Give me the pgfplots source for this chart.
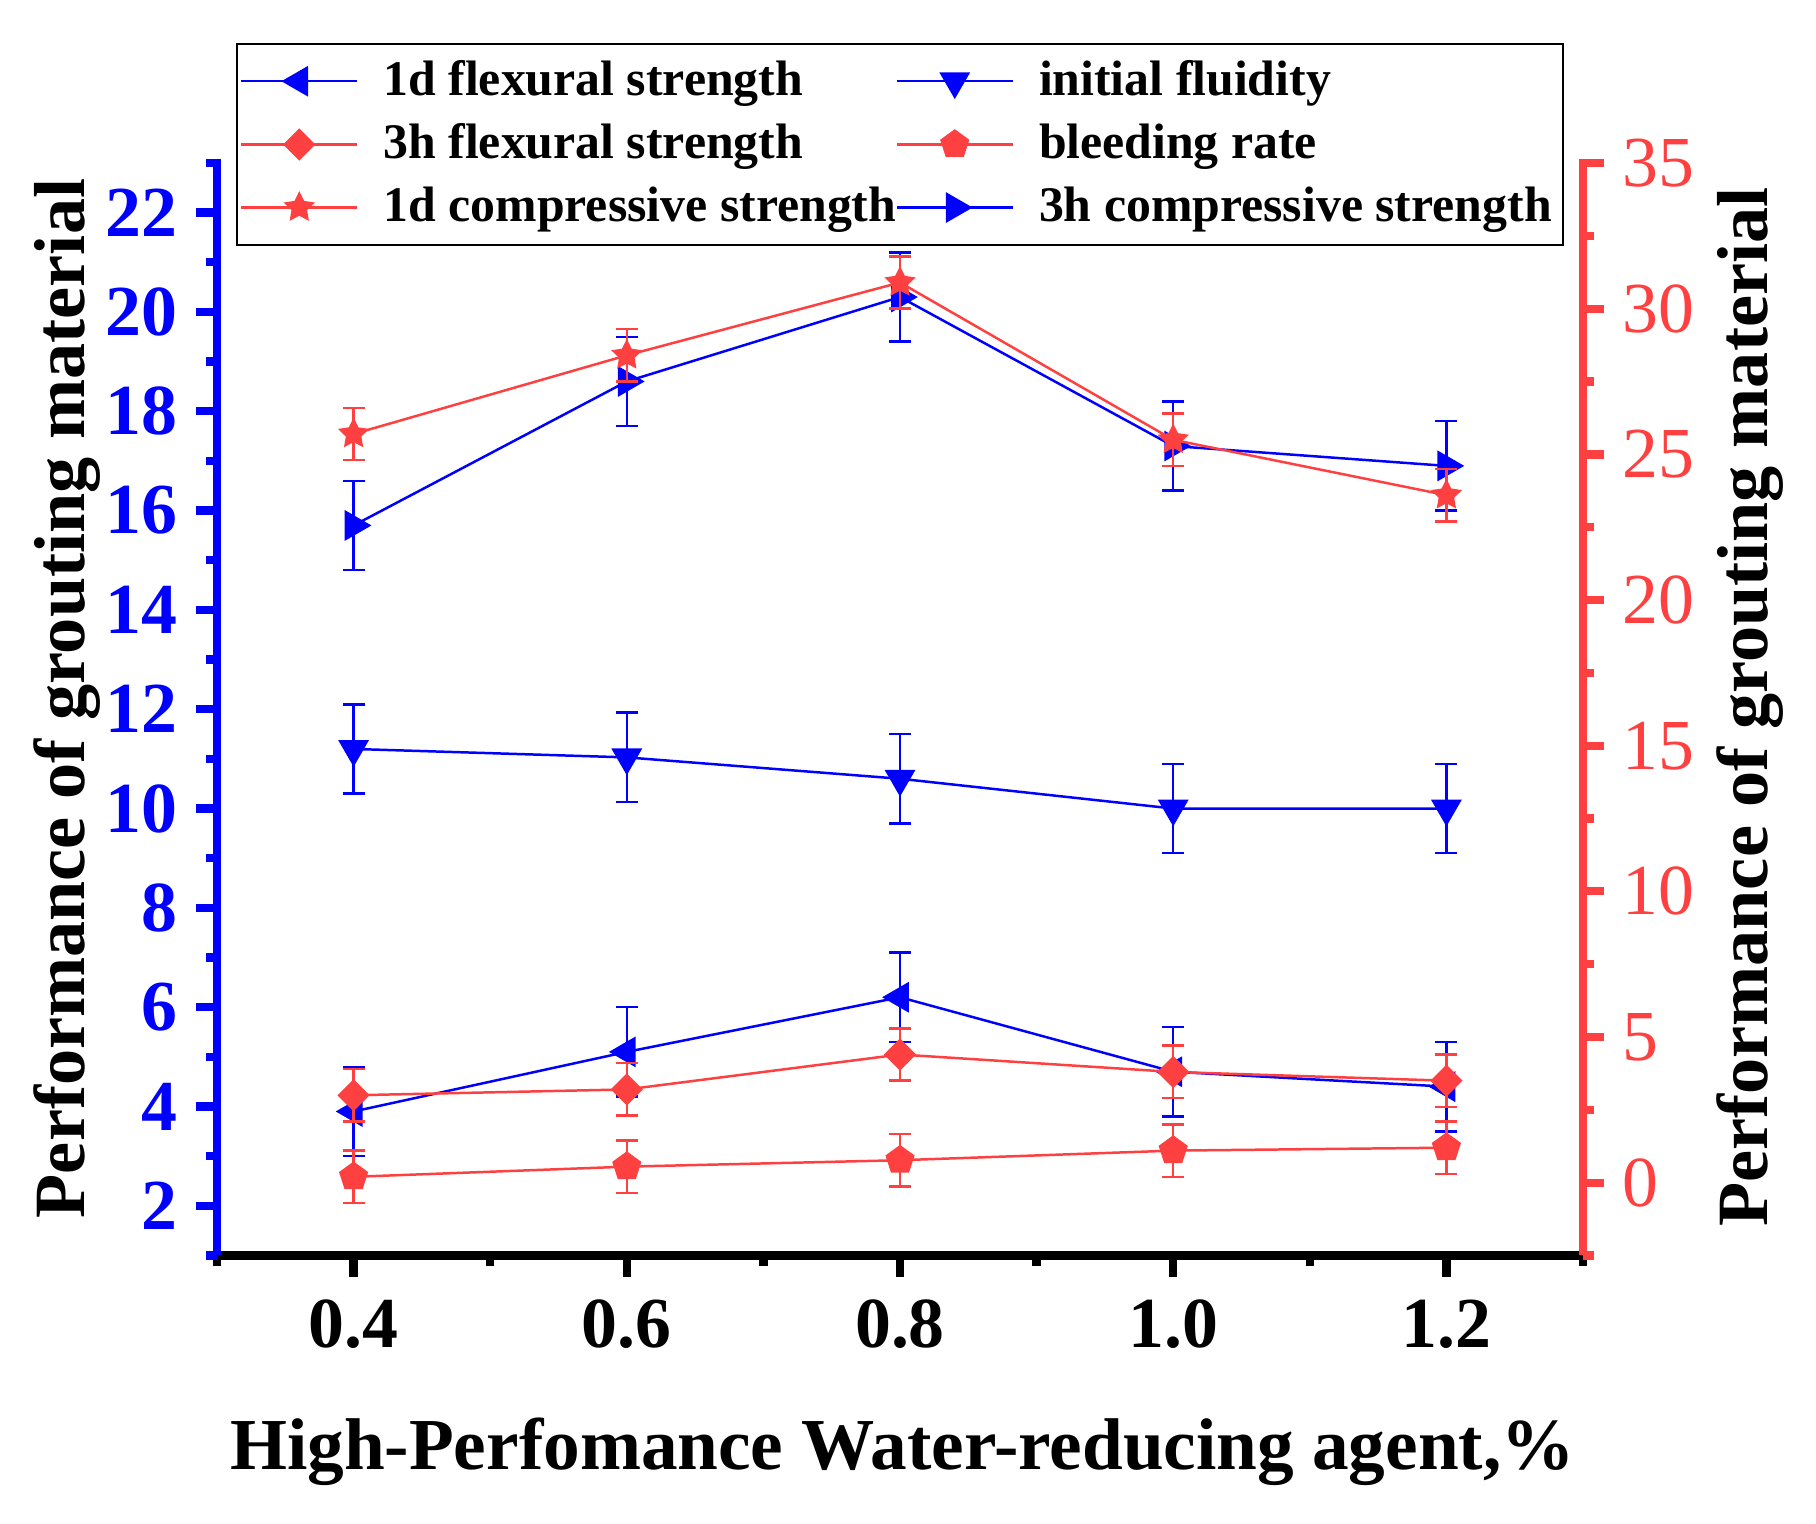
\documentclass[border=0pt]{standalone}
\usepackage{fontspec}
\setmainfont{Liberation Serif}
\usepackage{pgfplots}
\usepackage{pgfplotstable}
\pgfplotsset{compat=1.18}
\usetikzlibrary{plotmarks}
\definecolor{oblue}{RGB}{0,0,255}
\definecolor{ored}{RGB}{255,64,64}

\pgfdeclareplotmark{fstar}{%
  \pgfpathmoveto{\pgfpointpolar{90}{\pgfplotmarksize}}%
  \pgfpathlineto{\pgfpointpolar{126}{0.5\pgfplotmarksize}}%
  \pgfpathlineto{\pgfpointpolar{162}{\pgfplotmarksize}}%
  \pgfpathlineto{\pgfpointpolar{198}{0.5\pgfplotmarksize}}%
  \pgfpathlineto{\pgfpointpolar{234}{\pgfplotmarksize}}%
  \pgfpathlineto{\pgfpointpolar{270}{0.5\pgfplotmarksize}}%
  \pgfpathlineto{\pgfpointpolar{306}{\pgfplotmarksize}}%
  \pgfpathlineto{\pgfpointpolar{342}{0.5\pgfplotmarksize}}%
  \pgfpathlineto{\pgfpointpolar{18}{\pgfplotmarksize}}%
  \pgfpathlineto{\pgfpointpolar{54}{0.5\pgfplotmarksize}}%
  \pgfpathclose\pgfusepathqfillstroke}
\pgfdeclareplotmark{fdiamond}{%
  \pgfpathmoveto{\pgfqpoint{0pt}{\pgfplotmarksize}}%
  \pgfpathlineto{\pgfqpoint{\pgfplotmarksize}{0pt}}%
  \pgfpathlineto{\pgfqpoint{0pt}{-\pgfplotmarksize}}%
  \pgfpathlineto{\pgfqpoint{-\pgfplotmarksize}{0pt}}%
  \pgfpathclose\pgfusepathqfillstroke}

% left axis (blue)
\pgfplotstableread{
x y e
0.4 3.9 0.9
0.6 5.1 0.9
0.8 6.2 0.9
1.0 4.7 0.9
1.2 4.4 0.9
}\flexOneD
\pgfplotstableread{
x y e
0.4 11.2 0.9
0.6 11.03 0.9
0.8 10.6 0.9
1.0 10.0 0.9
1.2 10.0 0.9
}\fluidity
\pgfplotstableread{
x y e
0.4 15.7 0.9
0.6 18.6 0.9
0.8 20.3 0.9
1.0 17.3 0.9
1.2 16.9 0.9
}\compThreeH
% right axis (red)
\pgfplotstableread{
x y e
0.4 3.0 0.9
0.6 3.2 0.9
0.8 4.4 0.9
1.0 3.8 0.9
1.2 3.5 0.9
}\flexThreeH
\pgfplotstableread{
x y e
0.4 0.2 0.9
0.6 0.55 0.9
0.8 0.77 0.9
1.0 1.1 0.9
1.2 1.2 0.9
}\bleeding
\pgfplotstableread{
x y e
0.4 25.7 0.9
0.6 28.4 0.9
0.8 30.9 0.9
1.0 25.5 0.9
1.2 23.6 0.9
}\compOneD

\newcommand{\tickfont}{\fontsize{17.3}{20}\selectfont}
\newcommand{\labfont}{\bfseries\fontsize{17.4}{20}\selectfont}
\newcommand{\xlabfont}{\bfseries\fontsize{17.65}{20}\selectfont}

\pgfplotsset{
  common/.style={
    at={(52.29pt,64.70pt)}, anchor=south west,
    scale only axis, width=329.16pt, height=264.22pt,
    xmin=0.3, xmax=1.3,
    tick align=outside,
    major tick length=5.1pt, minor tick length=2.6pt,
    /pgf/number format/assume math mode=true,
  },
  eb/.style={error bars/.cd, y dir=both, y explicit,
    error bar style={line width=0.6pt, #1},
    error mark options={rotate=90, mark size=2.65pt, line width=0.6pt, #1}},
}

\begin{document}
\begin{tikzpicture}
\useasboundingbox (0,0) rectangle (437.59pt,367.23pt);
\begin{axis}[common,
  ymin=1, ymax=23.08,
  axis x line*=bottom, axis y line*=left,
  xtick={0.4,0.6,0.8,1.0,1.2}, xticklabels={0.4,0.6,0.8,1.0,1.2},
  minor xtick={0.3,0.5,0.7,0.9,1.1,1.3},
  ytick={2,4,6,8,10,12,14,16,18,20,22},
  minor ytick={1,3,5,7,9,11,13,15,17,19,21,23},
  x axis line style={black, line width=2pt},
  y axis line style={oblue, line width=2pt},
  xtick style={black, line width=2pt},
  ytick style={oblue, line width=2pt},
  xticklabel style={font=\tickfont\bfseries, black, inner sep=0pt, anchor=north, yshift=-5.45pt},
  yticklabel style={font=\tickfont\bfseries, oblue, inner sep=0pt, anchor=east, xshift=-4.2pt},
  xlabel={High-Perfomance Water-reducing agent,\%},
  xlabel style={font=\xlabfont, at={(axis description cs:0.5018,-0.1949)}, anchor=base},
  ylabel={Performance of grouting material},
  ylabel style={font=\labfont, at={(axis description cs:-0.0969,0.508)}, anchor=base},
]
\addplot[oblue, line width=0.6pt, mark=triangle*, mark size=3.9pt,
  mark options={rotate=90, solid, fill=oblue, line width=0.4pt}, eb=oblue]
  table[x=x, y=y, y error=e] {\flexOneD};
\addplot[oblue, line width=0.6pt, mark=triangle*, mark size=3.9pt,
  mark options={rotate=180, solid, fill=oblue, line width=0.4pt}, eb=oblue]
  table[x=x, y=y, y error=e] {\fluidity};
\addplot[oblue, line width=0.6pt, mark=triangle*, mark size=3.9pt,
  mark options={rotate=-90, solid, fill=oblue, line width=0.4pt}, eb=oblue]
  table[x=x, y=y, y error=e] {\compThreeH};
\end{axis}

\begin{axis}[common,
  ymin=-2.5, ymax=35.14,
  axis x line=none, axis y line*=right,
  ytick={0,5,10,15,20,25,30,35},
  minor ytick={-2.5,2.5,7.5,12.5,17.5,22.5,27.5,32.5},
  y axis line style={ored, line width=2pt},
  ytick style={ored, line width=2pt},
  yticklabel style={font=\tickfont, ored, inner sep=0pt, anchor=west, xshift=4.15pt},
  ylabel={Performance of grouting material},
  ylabel style={font=\labfont, at={(axis description cs:1.1349,0.5)}, anchor=base},
  legend columns=2, legend cell align=left,
  legend image code/.code={\draw[mark repeat=2,mark phase=2,#1] plot coordinates {(0pt,0pt) (14pt,0pt) (28pt,0pt)};},
  legend style={at={(axis description cs:0.0139,1.1058)}, anchor=north west,
    draw=black, line width=0.5pt, fill=white,
    font=\bfseries\fontsize{12}{14}\selectfont,
    inner xsep=0.7pt, inner ysep=2pt, row sep=1.3pt,
    nodes={inner sep=2pt, text depth=0.15em},
    /tikz/every odd column/.style={column sep=4pt},
    /tikz/every even column/.style={column sep=-2.2pt}},
]
\addlegendimage{oblue, line width=0.6pt, mark=triangle*, mark size=3.9pt, mark options={rotate=90, solid, fill=oblue, line width=0.4pt}}
\addlegendentry{1d flexural strength}
\addlegendimage{oblue, line width=0.6pt, mark=triangle*, mark size=3.9pt, mark options={rotate=180, solid, fill=oblue, line width=0.4pt}}
\addlegendentry{initial fluidity}
\addlegendimage{ored, line width=0.6pt, mark=fdiamond, mark size=3.6pt, mark options={solid, fill=ored, line width=0.4pt}}
\addlegendentry{3h flexural strength}
\addlegendimage{ored, line width=0.6pt, mark=pentagon*, mark size=3.45pt, mark options={solid, fill=ored, line width=0.4pt}}
\addlegendentry{bleeding rate}
\addlegendimage{ored, line width=0.6pt, mark=fstar, mark size=3.5pt, mark options={solid, fill=ored, line width=0.4pt}}
\addlegendentry{1d compressive strength}
\addlegendimage{oblue, line width=0.6pt, mark=triangle*, mark size=3.9pt, mark options={rotate=-90, solid, fill=oblue, line width=0.4pt}}
\addlegendentry{3h compressive strength}

\addplot[forget plot, ored, line width=0.6pt, mark=fdiamond, mark size=3.6pt,
  mark options={solid, fill=ored, line width=0.4pt}, eb=ored]
  table[x=x, y=y, y error=e] {\flexThreeH};
\addplot[forget plot, ored, line width=0.6pt, mark=pentagon*, mark size=3.45pt,
  mark options={solid, fill=ored, line width=0.4pt}, eb=ored]
  table[x=x, y=y, y error=e] {\bleeding};
\addplot[forget plot, ored, line width=0.6pt, mark=fstar, mark size=3.5pt,
  mark options={solid, fill=ored, line width=0.4pt}, eb=ored]
  table[x=x, y=y, y error=e] {\compOneD};
\end{axis}
\end{tikzpicture}
\end{document}
